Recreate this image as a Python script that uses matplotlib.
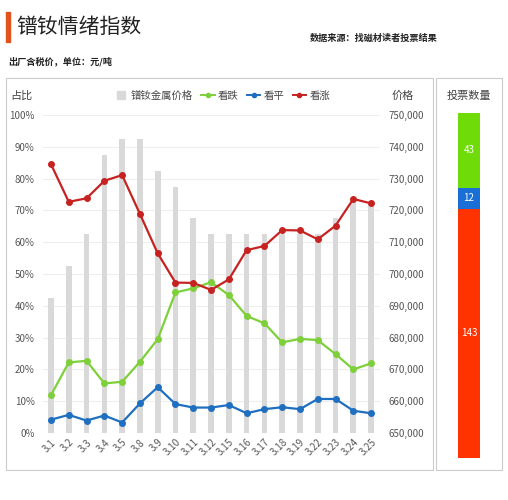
import matplotlib.pyplot as plt
from matplotlib.patches import Rectangle
from matplotlib.lines import Line2D
from matplotlib.ticker import FuncFormatter

plt.rcParams['font.family'] = ['Noto Sans CJK SC', 'DejaVu Sans']

dates = ["3.1", "3.2", "3.3", "3.4", "3.5", "3.8", "3.9", "3.10", "3.11", "3.12",
         "3.15", "3.16", "3.17", "3.18", "3.19", "3.22", "3.23", "3.24", "3.25"]
price = [692500, 702500, 712500, 737500, 742500, 742500, 732500, 727500, 717500, 712500,
         712500, 712500, 712500, 712500, 712500, 712500, 717500, 722500, 722500]
bear = [11.9, 22.2, 22.7, 15.6, 16.1, 22.4, 29.5, 44.2, 45.5, 47.4,
        43.4, 36.8, 34.5, 28.5, 29.6, 29.2, 24.8, 20.0, 21.9]
flat = [4.2, 5.7, 3.9, 5.5, 3.3, 9.3, 14.4, 9.1, 8.0, 8.0,
        8.8, 6.2, 7.5, 8.1, 7.5, 10.7, 10.7, 7.0, 6.2]
bull = [84.5, 72.7, 73.8, 79.3, 81.1, 68.9, 56.5, 47.3, 47.2, 45.0,
        48.3, 57.5, 58.8, 63.8, 63.7, 60.9, 65.2, 73.6, 72.2]
votes = [143, 12, 43]  # 看涨, 看平, 看跌
vote_colors = ["#ff3300", "#1a6fd6", "#6fdc0a"]

W, H = 508, 500
fig = plt.figure(figsize=(W / 100, H / 100), dpi=100)

def fx(px):
    return px / W

def fy(py):
    return 1 - py / H

# header
fig.patches.append(Rectangle((fx(6), fy(42)), fx(4), 30 / H, color="#e0531f",
                             transform=fig.transFigure))
fig.text(fx(16), fy(27), "镨钕情绪指数", fontsize=15, va="center", color="#222222")
fig.text(fx(310), fy(38), "数据来源：找磁材读者投票结果", fontsize=6.6,
         fontweight="bold", va="center", color="#222222")
fig.text(fx(8), fy(61), "出厂含税价，单位：元/吨", fontsize=6.6,
         fontweight="bold", va="center", color="#222222")

# panel boxes
for x0, x1 in [(6, 433), (436, 502)]:
    fig.patches.append(Rectangle((fx(x0), fy(470)), fx(x1 - x0), (470 - 78) / H,
                                 fill=False, ec="#cccccc", lw=0.8,
                                 transform=fig.transFigure))

ax = fig.add_axes([fx(43), fy(433), fx(380 - 43), (433 - 115) / H])
ax2 = ax.twinx()
x = list(range(len(dates)))

ax2.bar(x, price, width=0.32, color="#d9d9d9")
ax2.set_ylim(650000, 750000)
ax2.set_yticks(range(650000, 750001, 10000))
ax2.yaxis.set_major_formatter(FuncFormatter(lambda v, p: f"{int(v):,}"))

ax.plot(x, bear, color="#7ed03a", lw=1.6, marker="o", ms=4)
ax.plot(x, flat, color="#1f6fc0", lw=1.6, marker="o", ms=4)
ax.plot(x, bull, color="#c62222", lw=1.6, marker="o", ms=4)
ax.set_ylim(0, 100)
ax.set_yticks(range(0, 101, 10))
ax.set_yticklabels([f"{v}%" for v in range(0, 101, 10)])
ax.set_xlim(-0.45, len(dates) - 0.5)
ax.set_xticks(x)
ax.set_xticklabels(dates, rotation=45, ha="right", rotation_mode="anchor")

ax.set_zorder(ax2.get_zorder() + 1)
ax.patch.set_visible(False)
ax2.yaxis.grid(True, color="#eeeeee", lw=0.8)
ax2.set_axisbelow(True)

for a in (ax, ax2):
    for s in a.spines.values():
        s.set_visible(False)
    a.tick_params(length=0, labelsize=7, colors="#555555", pad=6)
ax.tick_params(axis="x", pad=3)

fig.text(fx(10), fy(96), "占比", fontsize=8, va="center", color="#444444")
fig.text(fx(392), fy(96), "价格", fontsize=8, va="center", color="#444444")
fig.text(fx(469), fy(96), "投票数量", fontsize=8, va="center", ha="center", color="#444444")

handles = [
    Line2D([], [], color="#d9d9d9", marker="s", ls="none", ms=6),
    Line2D([], [], color="#7ed03a", marker="o", ms=3, lw=1.4),
    Line2D([], [], color="#1f6fc0", marker="o", ms=3, lw=1.4),
    Line2D([], [], color="#c62222", marker="o", ms=3, lw=1.4),
]
fig.legend(handles, ["镨钕金属价格", "看跌", "看平", "看涨"], loc="center",
           bbox_to_anchor=(fx(222), fy(96)), ncol=4, frameon=False, fontsize=7.5,
           handlelength=1.3, handletextpad=0.3, columnspacing=0.8,
           labelcolor="#444444")

# vote bar
axv = fig.add_axes([fx(458), fy(458), fx(22), (458 - 113) / H])
bottom = 0
for v, c in zip(votes, vote_colors):
    axv.bar(0, v, bottom=bottom, width=1, color=c)
    axv.text(0, bottom + v / 2, str(v), ha="center", va="center", fontsize=7,
             color="white")
    bottom += v
axv.set_xlim(-0.5, 0.5)
axv.set_ylim(0, sum(votes))
axv.axis("off")

fig.savefig("out.png", dpi=100)
